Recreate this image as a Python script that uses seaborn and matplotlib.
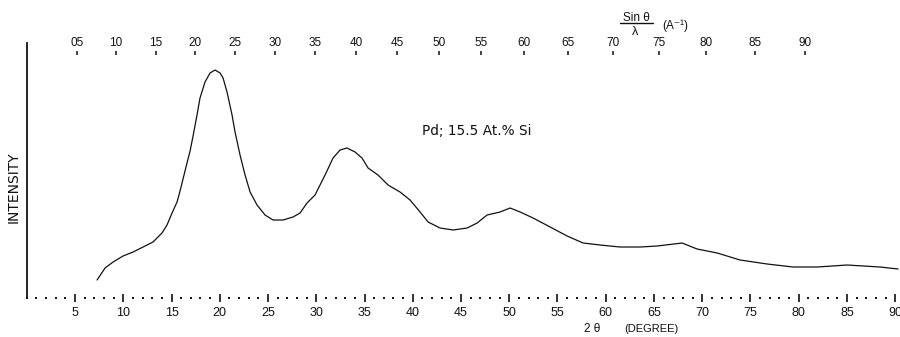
import numpy as np
import matplotlib
matplotlib.use("Agg")
import matplotlib.pyplot as plt
from matplotlib.lines import Line2D
import seaborn as sns
import pandas as pd

# diffraction trace (2 theta in degrees, intensity in arbitrary units)
two_theta = [7.28, 8.11, 8.94, 9.97, 11.01, 12.05, 13.08, 14.01, 14.53, 15.05,
             15.57, 15.88, 16.19, 16.6, 16.92, 17.23, 17.64, 17.95, 18.47, 18.99,
             19.51, 20.03, 20.34, 20.75, 21.27, 21.58, 22.10, 22.62, 23.14, 23.86,
             24.69, 25.52, 26.56, 27.59, 28.32, 29.04, 29.87, 30.91, 31.74, 32.47,
             33.19, 34.02, 34.74, 35.37, 36.40, 37.44, 38.68, 39.72, 40.76, 41.59,
             42.83, 44.18, 45.63, 46.67, 47.70, 49.05, 50.09, 51.13, 52.47, 54.24,
             56.0, 57.66, 59.42, 61.49, 63.56, 65.33, 67.92, 69.47, 71.55, 73.93,
             76.73, 79.42, 81.91, 85.02, 88.44, 90.3]
intensity = [18, 30, 36, 42, 46, 51, 56, 65, 73, 85,
             96, 107, 119, 135, 147, 162, 183, 200, 216, 225,
             228, 225, 220, 206, 183, 166, 143, 123, 106, 93,
             83, 78, 78, 81, 85, 95, 103, 123, 140, 148,
             150, 146, 140, 130, 123, 113, 106, 98, 86, 76,
             70, 68, 70, 75, 83, 86, 90, 86, 80, 71,
             62, 55, 53, 51, 51, 52, 55, 49, 45, 38,
             34, 31, 31, 33, 31, 29]

bottom_ticks = list(range(5, 95, 5))
top_ticks = list(range(5, 95, 5))   # sin(theta)/lambda x 100
wavelength = 0.7107                 # Mo K-alpha
zero_shift = 1.1

sample_label = "Pd; 15.5 At.% Si"

sns.set_style("white")
plt.rcParams['font.family'] = ['Liberation Sans', 'DejaVu Sans']

df = pd.DataFrame({"two_theta": two_theta, "intensity": intensity})

fig = plt.figure(figsize=(9, 3.37), dpi=100)
ax = fig.add_axes([0.0298, 0.1157, 0.9702, 0.7567])
sns.lineplot(data=df, x="two_theta", y="intensity", ax=ax,
             color="#111111", linewidth=0.9)

ax.set_xlim(0, 90.5)
ax.set_ylim(0, 255)
ax.set_xlabel("")
ax.set_ylabel("")
ax.set_yticks([])

for side in ["top", "right", "bottom"]:
    ax.spines[side].set_visible(False)
ax.spines["left"].set_color("#111111")
ax.spines["left"].set_linewidth(1.3)

ax.set_xticks(bottom_ticks)
ax.set_xticklabels([str(t) for t in bottom_ticks])
ax.set_xticks(np.arange(0, 91, 1), minor=True)
ax.tick_params(axis="x", which="both", bottom=True)
ax.tick_params(axis="x", which="major", direction="inout", length=6, width=1.2,
               color="#111111", labelsize=9, pad=3.5, labelcolor="#111111")
ax.tick_params(axis="x", which="minor", direction="inout", length=2, width=1.4,
               color="#111111")


def to_s(tt):
    tt = np.asarray(tt, dtype=float)
    return np.sin(np.radians((tt - zero_shift) / 2)) / wavelength * 100


def to_tt(s):
    s = np.asarray(s, dtype=float)
    v = np.clip(s / 100 * wavelength, -1, 1)
    return 2 * np.degrees(np.arcsin(v)) + zero_shift


top = ax.secondary_xaxis(0.953, functions=(to_s, to_tt))
top.xaxis.set_ticks_position("top")
top.set_xticks(top_ticks)
top.set_xticklabels([f"{t:02d}" for t in top_ticks])
top.tick_params(axis="x", direction="out", length=3, width=1.1, color="#111111",
                labelsize=8.5, pad=1.5, labelcolor="#111111")
for sp in top.spines.values():
    sp.set_visible(False)

ax.text(0.53, 0.611, sample_label, transform=fig.transFigure, ha="center",
        va="center", fontsize=9.8, color="#111111", family="DejaVu Sans")
ax.text(0.0156, 0.445, "INTENSITY", transform=fig.transFigure, rotation=90,
        ha="center", va="center", fontsize=10, color="#111111",
        family="DejaVu Sans")
ax.text(0.658, 0.024, "2 θ", transform=fig.transFigure, ha="center",
        va="center", fontsize=8.5, color="#111111")
ax.text(0.724, 0.024, "(DEGREE)", transform=fig.transFigure, ha="center",
        va="center", fontsize=8, color="#111111")

# sin(theta)/lambda fraction title on the top scale
fig.text(0.707, 0.948, "Sin θ", ha="center", va="center", fontsize=8.5,
         color="#111111")
fig.add_artist(Line2D([0.689, 0.726], [0.932, 0.932], transform=fig.transFigure,
                      color="#111111", linewidth=1.0))
fig.text(0.706, 0.906, "λ", ha="center", va="center", fontsize=9,
         color="#111111")
fig.text(0.750, 0.925, "(A⁻¹)", ha="center", va="center", fontsize=8.5,
         color="#111111")

fig.savefig("out.png", dpi=100)
